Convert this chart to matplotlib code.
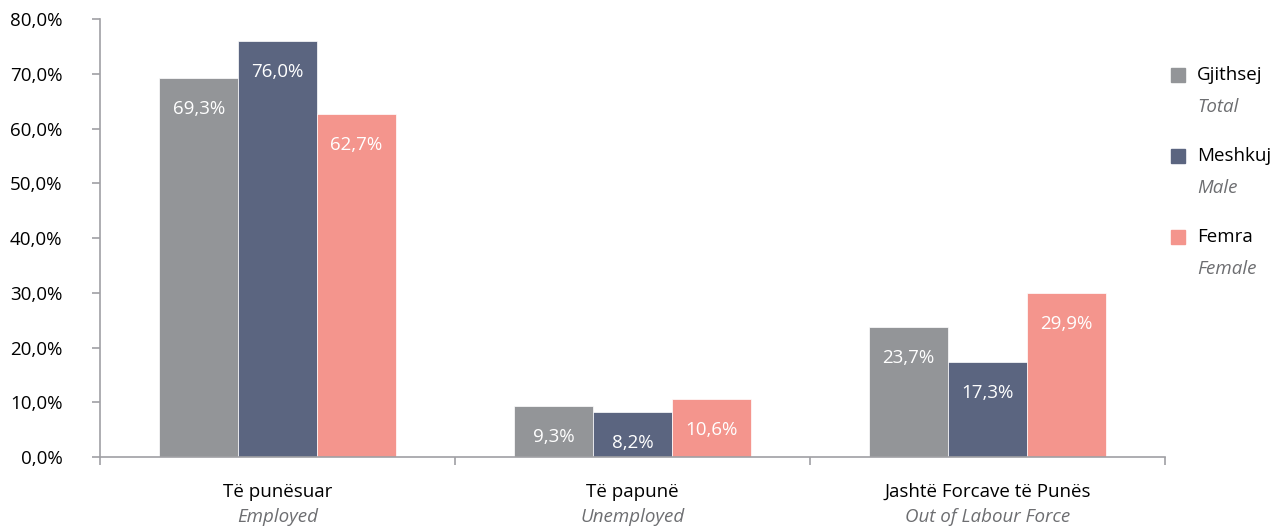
import matplotlib.pyplot as plt
import numpy as np

plt.rcParams['font.family'] = ['Open Sans', 'DejaVu Sans']

kategori = ["Të punësuar", "Të papunë", "Jashtë Forcave të Punës"]
kategori_en = ["Employed", "Unemployed", "Out of Labour Force"]
seriler = ["Gjithsej", "Meshkuj", "Femra"]
seriler_en = ["Total", "Male", "Female"]
gjithsej = [69.3, 9.3, 23.7]
meshkuj = [76.0, 8.2, 17.3]
femra = [62.7, 10.6, 29.9]
yticks = [0, 10, 20, 30, 40, 50, 60, 70, 80]

renkler = ["#939598", "#5b6580", "#f4958d"]
spine_renk = "#a0a0a4"
fs = 13.5

fig = plt.figure(figsize=(12.85, 5.32), dpi=100)
ax = fig.add_axes([0.0778, 0.141, 0.8288, 0.823])

x = np.arange(len(kategori))
w = 0.222
for i, (vals, c) in enumerate(zip([gjithsej, meshkuj, femra], renkler)):
    pos = x + (i - 1) * w
    ax.bar(pos, vals, width=w, color=c, edgecolor="white", linewidth=0.5)
    for p, v in zip(pos, vals):
        ax.annotate(f"{v:.1f}%".replace(".", ","), (p, v), xytext=(0, -31),
                    textcoords="offset pixels", ha="center", va="center",
                    color="white", fontsize=fs)

ax.set_xlim(-0.5, 2.5)
ax.set_ylim(0, 80)
ax.set_yticks(yticks)
ax.set_yticklabels([f"{t:.1f}%".replace(".", ",") for t in yticks], fontsize=fs)

ax.set_xticks(x)
ax.set_xticklabels([])
ax.tick_params(axis="x", which="major", length=0)
ax.set_xticks([-0.5, 0.5, 1.5, 2.5], minor=True)
ax.tick_params(axis="x", which="minor", length=6, color=spine_renk, width=1.2)
ax.tick_params(axis="y", length=6, color=spine_renk, width=1.2, pad=21)

for s in ["top", "right"]:
    ax.spines[s].set_visible(False)
for s in ["left", "bottom"]:
    ax.spines[s].set_color(spine_renk)
    ax.spines[s].set_linewidth(1.2)

# x etiketleri iki satir
for xi, k, ke in zip(x, kategori, kategori_en):
    ax.annotate(k, (xi, 0), xycoords=("data", "axes fraction"), xytext=(0, -35),
                textcoords="offset pixels", ha="center", va="center", fontsize=fs)
    ax.annotate(ke, (xi, 0), xycoords=("data", "axes fraction"), xytext=(0, -60),
                textcoords="offset pixels", ha="center", va="center", fontsize=fs,
                style="italic", color="#6d6e71")

# legend
for i, (s, se, c) in enumerate(zip(seriler, seriler_en, renkler)):
    ytop = 1 - (75 + i * 81) / 532
    fig.patches.append(plt.Rectangle((1171 / 1285, ytop - 7 / 532), 14 / 1285, 14 / 532,
                                     transform=fig.transFigure, color=c))
    fig.text(1197 / 1285, ytop, s, fontsize=fs, va="center", ha="left")
    fig.text(1197 / 1285, ytop - 32 / 532, se, fontsize=fs, va="center", ha="left",
             style="italic", color="#6d6e71")

plt.savefig("out.png", dpi=100)
